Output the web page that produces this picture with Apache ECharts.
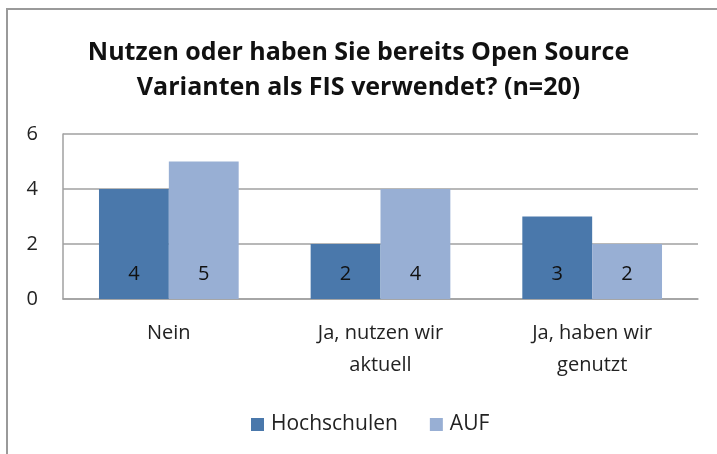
<!DOCTYPE html>
<html>
<head>
<meta charset="utf-8">
<script src="https://cdn.jsdelivr.net/npm/echarts@6/dist/echarts.min.js"></script>
<style>
  html, body { margin: 0; padding: 0; background: #fff; }
  #frame { position: absolute; left: 6px; top: 8px; width: 711px; height: 446px;
           border-left: 2px solid #9a9a9a; border-top: 2px solid #9a9a9a; }
  #main { position: absolute; left: 0; top: 0; width: 717px; height: 454px; }
</style>
</head>
<body>
<div id="frame"></div>
<div id="main"></div>
<script>
// Kategorien und Werte
var categories = ['Nein', 'Ja, nutzen wir\naktuell', 'Ja, haben wir\ngenutzt'];
var hochschulen = [4, 2, 3];
var auf = [5, 4, 2];
var yTicks = [0, 2, 4, 6];

var font = '"Open Sans", sans-serif';
var chart = echarts.init(document.getElementById('main'));

chart.setOption({
    animation: false,
    title: {
        text: 'Nutzen oder haben Sie bereits Open Source\nVarianten als FIS verwendet? (n=20)',
        left: 'center',
        top: 30,
        padding: [5, 5, 5, 17],
        textStyle: { fontFamily: font, fontSize: 25, fontWeight: 'bold', color: '#111', lineHeight: 35 }
    },
    legend: {
        data: ['Hochschulen', 'AUF'],
        top: 409,
        left: 246,
        itemWidth: 13,
        itemHeight: 13,
        itemGap: 32,
        icon: 'rect',
        textStyle: { fontFamily: font, fontSize: 21, color: '#222', padding: [0, 0, 0, 2] }
    },
    grid: { left: 63, right: 19, top: 134, bottom: 155 },
    xAxis: {
        type: 'category',
        data: categories,
        axisTick: { show: false },
        axisLine: { lineStyle: { color: '#a0a0a0', width: 1.5 } },
        axisLabel: { fontFamily: font, fontSize: 20, color: '#222', lineHeight: 32, margin: 18, interval: 0 }
    },
    yAxis: {
        type: 'value',
        min: yTicks[0],
        max: yTicks[yTicks.length - 1],
        interval: 2,
        axisLine: { show: true, lineStyle: { color: '#a0a0a0', width: 1.5 } },
        axisTick: { show: false },
        splitLine: { lineStyle: { color: '#a0a0a0', width: 1.5 } },
        axisLabel: { fontFamily: font, fontSize: 20, color: '#222', margin: 25 }
    },
    series: [
        {
            name: 'Hochschulen',
            type: 'bar',
            data: hochschulen,
            barGap: '0%',
            barCategoryGap: '34%',
            itemStyle: { color: '#4a78ab' },
            label: { show: true, position: 'insideBottom', distance: 15, fontFamily: font, fontSize: 20, color: '#111' }
        },
        {
            name: 'AUF',
            type: 'bar',
            data: auf,
            barGap: '0%',
            barCategoryGap: '34%',
            itemStyle: { color: '#98afd4' },
            label: { show: true, position: 'insideBottom', distance: 15, fontFamily: font, fontSize: 20, color: '#111' }
        }
    ]
});
window.onresize = function () { chart.resize(); };
</script>
</body>
</html>
